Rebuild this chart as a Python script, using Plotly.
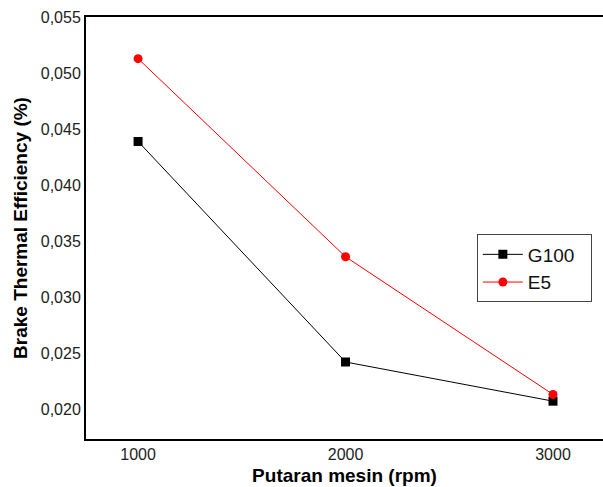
import plotly.graph_objects as go

rpm = [1000, 2000, 3000]
g100 = [0.0439, 0.0242, 0.0207]
e5 = [0.0513, 0.0336, 0.0213]
x_ticks = [1000, 2000, 3000]
y_ticks = [0.020, 0.025, 0.030, 0.035, 0.040, 0.045, 0.050, 0.055]

FONT = "Arial, 'Liberation Sans', sans-serif"
PAD = "\u00a0\u00a0"

fig = go.Figure()
fig.add_trace(go.Scatter(
    x=rpm, y=g100, name="G100" + PAD, mode="lines+markers",
    line=dict(color="black", width=1),
    marker=dict(symbol="square", size=9, color="black"),
))
fig.add_trace(go.Scatter(
    x=rpm, y=e5, name="E5", mode="lines+markers",
    line=dict(color="red", width=1),
    marker=dict(symbol="circle", size=9, color="red"),
))

fig.update_layout(
    width=603, height=487,
    margin=dict(l=86, r=0, t=17, b=48),
    paper_bgcolor="white", plot_bgcolor="white",
    separators=",.",
    font=dict(family=FONT, color="#222"),
    showlegend=True,
    legend=dict(
        x=0.756, y=0.4846, xanchor="left", yanchor="top",
        bordercolor="#444", borderwidth=1, bgcolor="white",
        font=dict(size=19, color="#111", family=FONT),
        tracegroupgap=0, itemwidth=40,
    ),
    xaxis=dict(
        range=[749, 3241],
        tickvals=x_ticks, tickformat="d",
        showgrid=False, zeroline=False,
        showline=True, linecolor="black", linewidth=2, mirror=True,
        ticks="", tickfont=dict(size=16, color="#222"),
        title=dict(text="<b>Putaran mesin (rpm)</b>", font=dict(size=19, color="black"), standoff=6),
    ),
    yaxis=dict(
        range=[0.01732, 0.05502],
        tickvals=y_ticks, tickformat=".3f",
        showgrid=False, zeroline=False,
        showline=True, linecolor="black", linewidth=2, mirror=False,
        ticks="", tickfont=dict(size=16, color="#222"),
        title=dict(text="<b>Brake Thermal Efficiency (%)</b>", font=dict(size=19, color="black"), standoff=8),
    ),
)

fig.write_html("out.html")
